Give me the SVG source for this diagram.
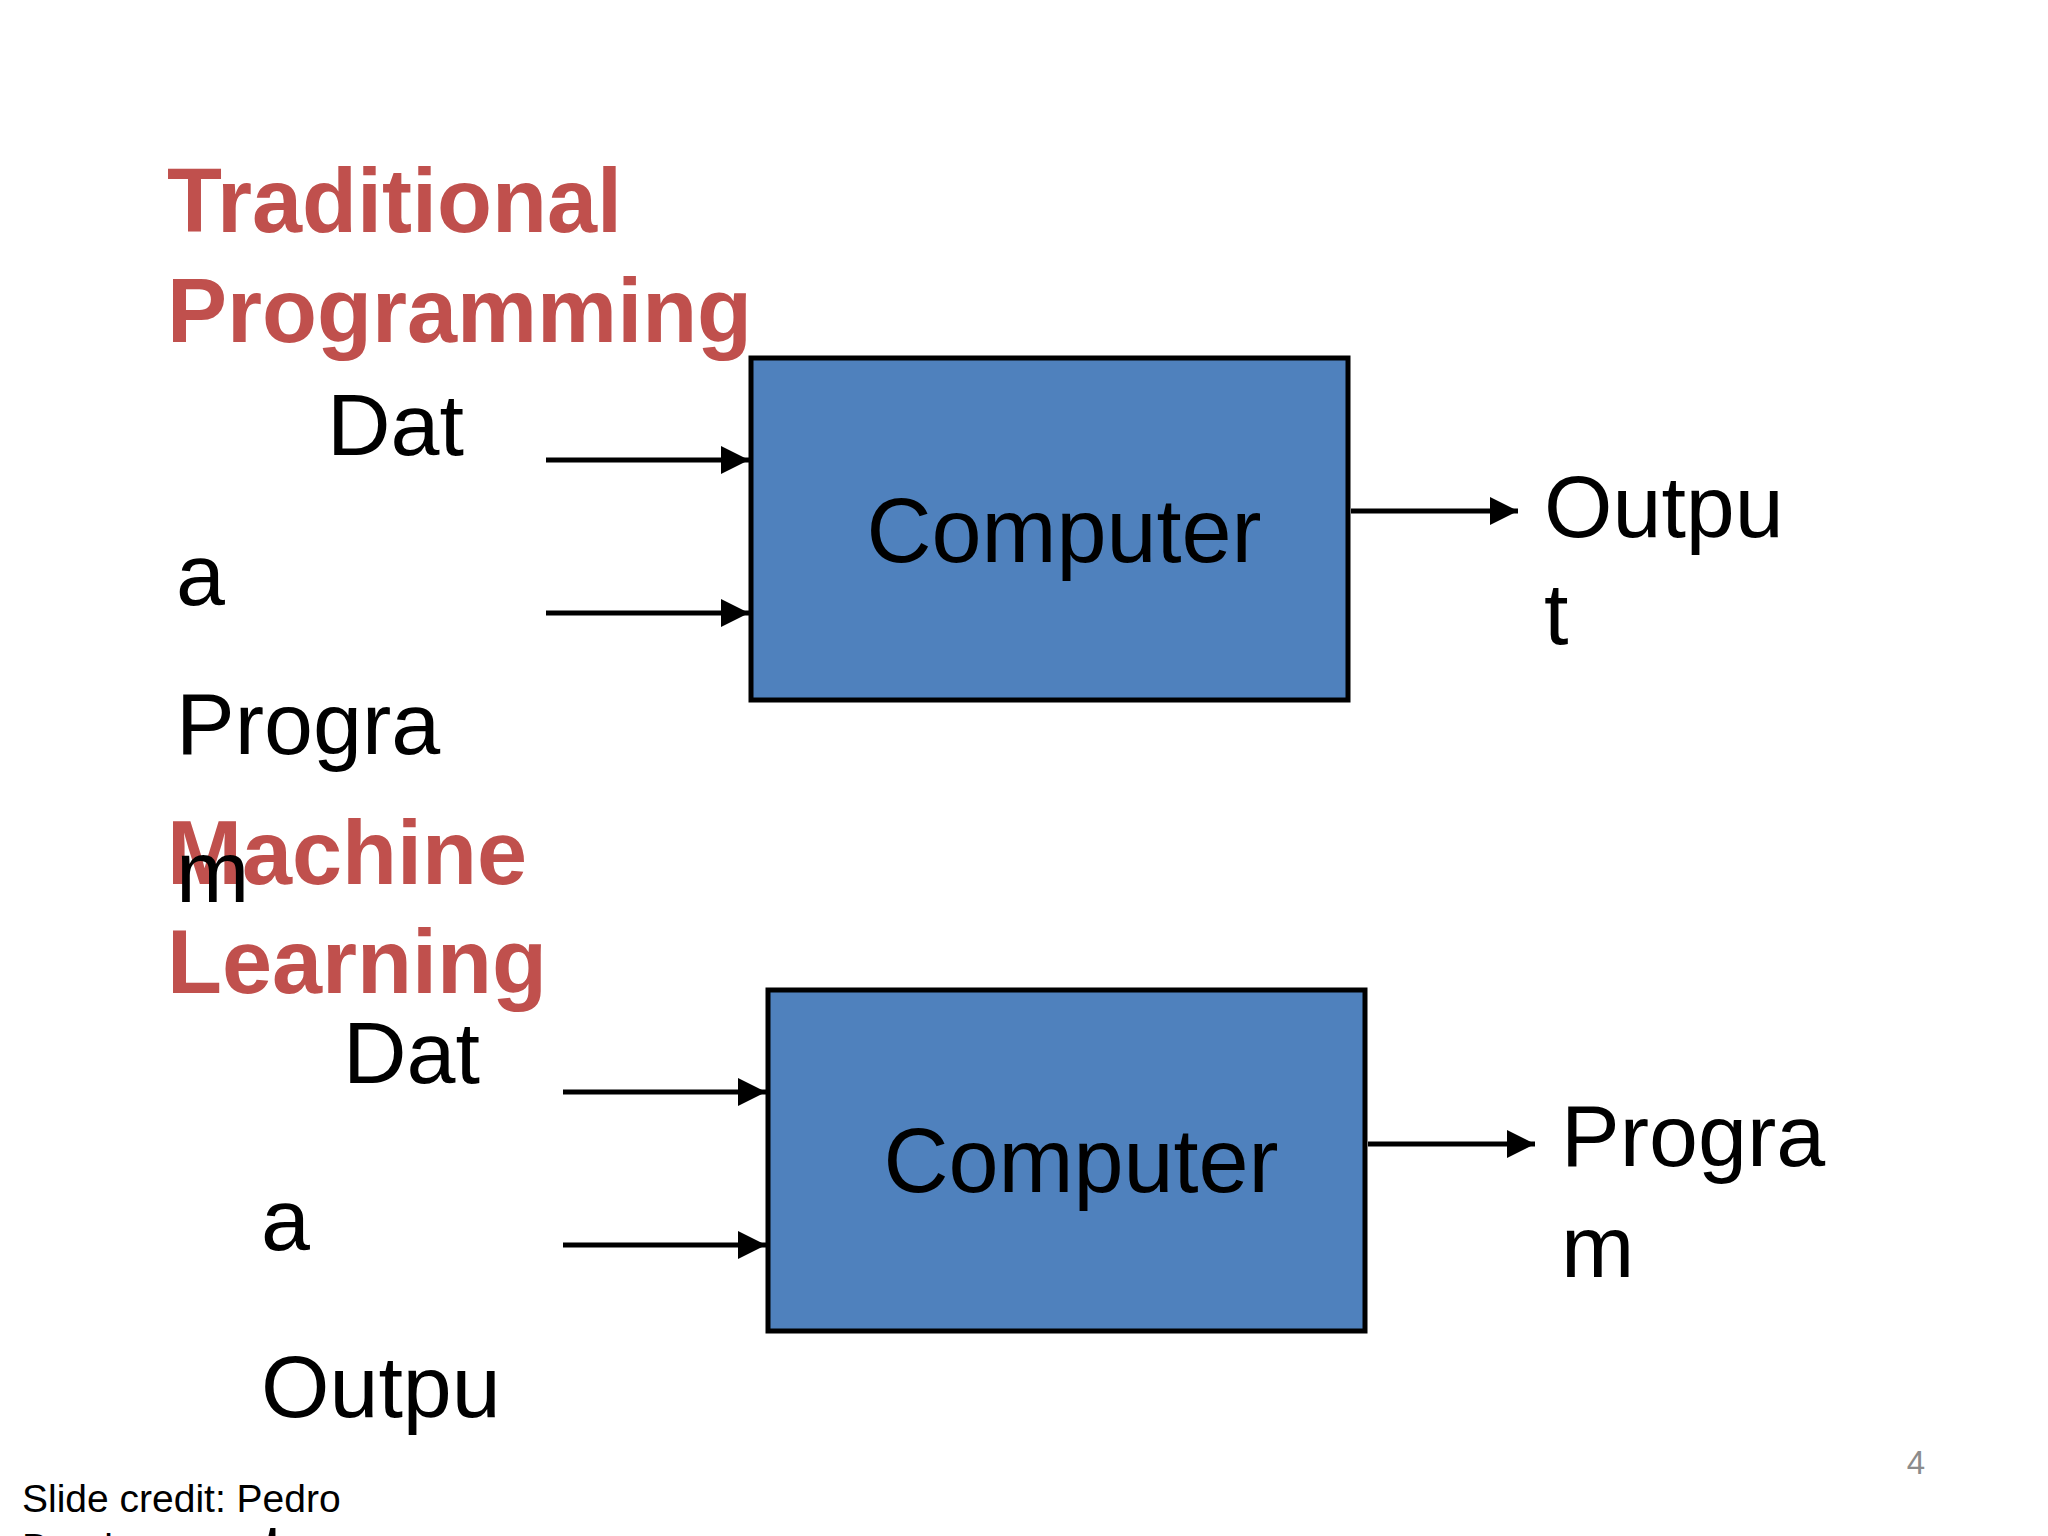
<svg xmlns="http://www.w3.org/2000/svg" width="2048" height="1536" viewBox="0 0 2048 1536">
<style>
.head{font-family:"Liberation Sans",Arial,sans-serif;font-weight:bold;font-size:90px;fill:#C0504D}
.lbl{font-family:"Liberation Sans",Arial,sans-serif;font-size:88px;fill:#000}
.box{fill:#4F81BD;stroke:#000;stroke-width:5}
.cmp{font-family:"Liberation Sans",Arial,sans-serif;font-size:90px;fill:#000;text-anchor:middle}
.conn{stroke:#000;stroke-width:5;fill:none;marker-end:url(#ah)}
.credit{font-family:"Liberation Sans",Arial,sans-serif;font-size:39px;fill:#000}
.pg{font-family:"Liberation Sans",Arial,sans-serif;font-size:33px;fill:#8C8C8C;text-anchor:middle}
</style>
<defs>
<marker id="ah" markerUnits="userSpaceOnUse" markerWidth="30" markerHeight="30" refX="28" refY="14" orient="auto">
<path d="M0,0 L28,14 L0,28 Z" fill="#000"/>
</marker>
</defs>
<rect width="2048" height="1536" fill="#fff"/>

<g id="title-traditional">
<text class="head" x="167" y="232">Traditional</text>
<text class="head" x="167" y="342">Programming</text>
</g>
<g id="title-ml">
<text class="head" x="167" y="884">Machine</text>
<text class="head" x="167" y="993">Learning</text>
</g>

<g id="input-tp">
<text class="lbl" x="327" y="455">Dat</text>
<text class="lbl" x="176" y="605">a</text>
<text class="lbl" x="176" y="754">Progra</text>
<text class="lbl" x="176" y="902">m</text>
</g>

<g id="computer-tp">
<rect class="box" x="751" y="358" width="597" height="342"/>
<text class="cmp" x="1064" y="562">Computer</text>
</g>

<g id="output-tp">
<text class="lbl" x="1544" y="537">Outpu</text>
<text class="lbl" x="1544" y="644">t</text>
</g>

<g id="input-ml">
<text class="lbl" x="343" y="1083">Dat</text>
<text class="lbl" x="261" y="1250">a</text>
<text class="lbl" x="261" y="1417">Outpu</text>
<text class="lbl" x="261" y="1584">t</text>
</g>

<g id="computer-ml">
<rect class="box" x="768" y="990" width="597" height="341"/>
<text class="cmp" x="1081" y="1192">Computer</text>
</g>

<g id="output-ml">
<text class="lbl" x="1561" y="1166">Progra</text>
<text class="lbl" x="1561" y="1277">m</text>
</g>

<g id="connectors">
<line class="conn" x1="546" y1="460" x2="749" y2="460"/>
<line class="conn" x1="546" y1="613" x2="749" y2="613"/>
<line class="conn" x1="1351" y1="511" x2="1518" y2="511"/>
<line class="conn" x1="563" y1="1092" x2="766" y2="1092"/>
<line class="conn" x1="563" y1="1245" x2="766" y2="1245"/>
<line class="conn" x1="1368" y1="1144" x2="1535" y2="1144"/>
</g>

<g id="footer">
<text class="credit" x="22" y="1512">Slide credit: Pedro</text>
<text class="credit" x="22" y="1561">Domingos</text>
<text class="pg" x="1916" y="1474">4</text>
</g>
</svg>
